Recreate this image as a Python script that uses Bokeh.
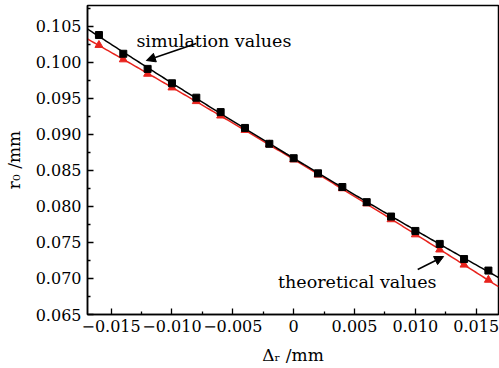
import numpy as np
from bokeh.plotting import figure
from bokeh.models import Range1d, FixedTicker, Label, Arrow, NormalHead
from bokeh.embed import file_html
from bokeh.resources import INLINE

# ---- data ----
delta_r = [-0.016, -0.014, -0.012, -0.010, -0.008, -0.006, -0.004, -0.002, 0.0,
           0.002, 0.004, 0.006, 0.008, 0.010, 0.012, 0.014, 0.016]
sim_r0 = [0.1038, 0.1012, 0.0991, 0.0971, 0.0951, 0.0931, 0.0909, 0.0887, 0.0867,
          0.0846, 0.0827, 0.0806, 0.0786, 0.0766, 0.0748, 0.0727, 0.0711]
theo_r0 = [0.1024, 0.1004, 0.0984, 0.0965, 0.0946, 0.0926, 0.0906, 0.0886, 0.0865,
           0.0844, 0.0825, 0.0804, 0.0782, 0.0761, 0.0740, 0.0719, 0.0698]

x_ticks = [-0.015, -0.010, -0.005, 0.0, 0.005, 0.010, 0.015]
x_tick_labels = ["\u22120.015", "\u22120.010", "\u22120.005", "0", "0.005", "0.010", "0.015"]
x_minor = [-0.0125, -0.0075, -0.0025, 0.0025, 0.0075, 0.0125]
y_ticks = [0.065, 0.070, 0.075, 0.080, 0.085, 0.090, 0.095, 0.100, 0.105]
y_tick_labels = ["0.065", "0.070", "0.075", "0.080", "0.085", "0.090", "0.095", "0.100", "0.105"]
y_minor = [0.0675, 0.0725, 0.0775, 0.0825, 0.0875, 0.0925, 0.0975, 0.1025, 0.1075]

x_title = "\u0394\u1d63 /mm"
y_title = "r\u2080 /mm"

# ---- layout ----
W, H = 499, 368
FL, FR, FT, FB = 86, 498, 5, 314
X0, X1 = -0.01694, 0.01683
Y0, Y1 = 0.065, 0.1079
FONT = "'DejaVu Serif', 'Liberation Serif', serif"

def dx(px):
    return X0 + (px - FL) / (FR - FL) * (X1 - X0)

def dy(py):
    return Y0 + (FB - py) / (FB - FT) * (Y1 - Y0)

p = figure(width=W, height=H, x_range=Range1d(X0, X1), y_range=Range1d(Y0, Y1),
           output_backend="svg", toolbar_location=None,
           min_border_left=FL, min_border_right=W - FR, min_border_top=FT,
           min_border_bottom=H - FB)
p.background_fill_color = "white"
p.border_fill_color = "white"
p.grid.visible = False
p.outline_line_color = "black"
p.outline_line_width = 1.5
p.outline_line_alpha = 1.0

p.xaxis.ticker = FixedTicker(ticks=x_ticks, minor_ticks=x_minor)
p.yaxis.ticker = FixedTicker(ticks=y_ticks, minor_ticks=y_minor)
p.xaxis.major_label_overrides = {t: s for t, s in zip(x_ticks, x_tick_labels)}
p.yaxis.major_label_overrides = {t: s for t, s in zip(y_ticks, y_tick_labels)}
for ax in (p.xaxis, p.yaxis):
    ax.axis_line_width = 1.5
    ax.axis_line_color = "black"
    ax.major_tick_in = 6
    ax.major_tick_out = 0
    ax.minor_tick_in = 3
    ax.minor_tick_out = 0
    ax.major_tick_line_width = 1.3
    ax.minor_tick_line_width = 1.3
    ax.major_tick_line_color = "black"
    ax.minor_tick_line_color = "black"
    ax.major_label_text_font = FONT
    ax.major_label_text_font_size = "16px"
    ax.major_label_text_color = "black"
    ax.axis_label_text_font = FONT
    ax.axis_label_text_font_size = "17px"
    ax.axis_label_text_font_style = "normal"
    ax.axis_label_text_color = "black"
p.yaxis.major_label_standoff = 6
p.xaxis.major_label_standoff = 5
p.xaxis.axis_label = x_title
p.yaxis.axis_label = y_title
p.xaxis.axis_label_standoff = 10
p.yaxis.axis_label_standoff = 9

# fitted curves through the data
xs_fit = np.linspace(X0, X1, 200)
sim_fit = np.polyval(np.polyfit(delta_r, sim_r0, 2), xs_fit)
theo_fit = np.polyval(np.polyfit(delta_r, theo_r0, 2), xs_fit)

p.line(xs_fit, theo_fit, line_color="#e8231d", line_width=1.5)
p.line(xs_fit, sim_fit, line_color="black", line_width=1.5)
p.scatter(delta_r, theo_r0, marker="triangle", size=8, fill_color="#e8231d",
          line_color="#e8231d")
p.scatter(delta_r, sim_r0, marker="square", size=7, fill_color="black",
          line_color="black")

# annotations
p.add_layout(Label(x=dx(135), y=dy(40), text="simulation values", text_font=FONT,
                   text_font_size="17.5px", text_color="black",
                   text_baseline="alphabetic"))
p.add_layout(Label(x=dx(277), y=dy(281.5), text="theoretical values", text_font=FONT,
                   text_font_size="17.5px", text_color="black",
                   text_baseline="alphabetic"))
p.add_layout(Arrow(end=NormalHead(size=9, fill_color="black", line_color="black"),
                   x_start=dx(195), y_start=dy(43), x_end=dx(145), y_end=dy(60),
                   line_width=1.5, line_color="black"))
p.add_layout(Arrow(end=NormalHead(size=9, fill_color="black", line_color="black"),
                   x_start=dx(417), y_start=dy(269), x_end=dx(443), y_end=dy(256),
                   line_width=1.5, line_color="black"))

open("out.html", "w").write(file_html(p, INLINE))
